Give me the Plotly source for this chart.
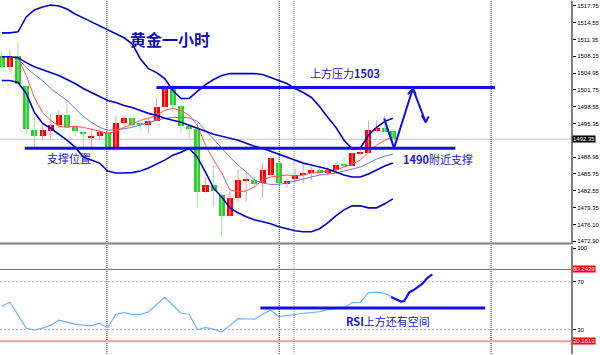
import plotly.graph_objects as go

# ---------------- data ----------------
idx = list(range(49))
opens = [1508.28, 1506.19, 1508.28, 1502.59, 1494.07, 1492.93, 1494.00, 1495.01, 1496.91, 1494.64,
         1493.69, 1492.60, 1492.93, 1493.69, 1490.85, 1495.39, 1496.34, 1495.30, 1495.01, 1495.77,
         1498.42, 1502.21, 1498.61, 1494.82, 1494.26, 1482.32, 1483.65, 1481.75, 1477.77, 1481.18,
         1484.50, 1484.59, 1484.03, 1485.54, 1487.81, 1483.84, 1484.78, 1485.54, 1485.92, 1486.49,
         1485.92, 1486.49, 1487.50, 1487.25, 1489.65, 1489.71, 1493.88, 1494.45, 1493.88]
highs = [1509.00, 1509.60, 1511.12, 1502.80, 1496.53, 1495.01, 1497.29, 1497.86, 1499.37, 1495.00,
         1493.90, 1494.45, 1494.45, 1494.07, 1496.72, 1496.91, 1496.40, 1495.58, 1496.53, 1500.13,
         1502.97, 1502.97, 1498.80, 1494.90, 1495.58, 1485.16, 1487.44, 1482.32, 1482.32, 1486.68,
         1486.49, 1485.16, 1487.81, 1488.95, 1487.85, 1484.97, 1486.68, 1487.81, 1487.06, 1487.06,
         1487.06, 1487.81, 1488.95, 1489.71, 1490.66, 1495.96, 1495.96, 1496.91, 1493.90]
lows = [1505.60, 1505.06, 1502.59, 1493.12, 1490.85, 1492.17, 1492.55, 1494.45, 1494.45, 1492.93,
        1490.85, 1490.85, 1492.17, 1490.85, 1490.85, 1495.01, 1494.45, 1494.07, 1493.50, 1495.70,
        1498.40, 1497.48, 1493.50, 1492.17, 1479.29, 1482.13, 1479.48, 1473.79, 1477.70, 1480.43,
        1480.43, 1483.08, 1481.18, 1485.50, 1483.08, 1483.08, 1484.03, 1484.03, 1484.59, 1485.54,
        1485.35, 1486.10, 1487.06, 1487.20, 1489.30, 1489.70, 1493.80, 1493.69, 1492.36]
closes = [1506.19, 1508.09, 1502.97, 1494.26, 1492.93, 1494.07, 1495.10, 1496.91, 1494.64, 1493.88,
          1493.50, 1492.74, 1493.69, 1490.85, 1495.39, 1496.34, 1495.01, 1495.20, 1495.77, 1498.42,
          1502.21, 1498.80, 1494.82, 1494.26, 1482.32, 1483.65, 1482.51, 1477.77, 1481.18, 1484.59,
          1484.65, 1483.84, 1486.49, 1488.76, 1484.03, 1484.40, 1485.54, 1485.92, 1486.49, 1485.92,
          1486.49, 1487.44, 1487.35, 1489.71, 1489.80, 1494.07, 1494.45, 1493.69, 1492.35]

bb_upper = [1512.63, 1512.63, 1512.82, 1515.67, 1516.99, 1517.56, 1517.94, 1517.75, 1517.18, 1516.23,
            1515.48, 1514.72, 1513.96, 1513.20, 1512.44, 1511.69, 1510.55, 1507.71, 1505.81, 1505.06,
            1503.92, 1501.65, 1500.13, 1500.13, 1501.46, 1502.78, 1503.73, 1504.49, 1504.87, 1504.87,
            1504.87, 1504.87, 1504.68, 1504.11, 1503.54, 1502.97, 1502.02, 1501.27, 1500.32, 1498.61,
            1496.53, 1494.64, 1492.17, 1490.47, 1490.66, 1493.12, 1494.64, 1495.77, 1496.34]
bb_mid = [1508.09, 1508.09, 1507.90, 1506.95, 1506.19, 1505.62, 1505.06, 1504.49, 1503.73, 1502.97,
          1502.02, 1501.27, 1500.51, 1499.75, 1499.37, 1498.80, 1498.42, 1497.86, 1497.29, 1496.91,
          1496.34, 1495.96, 1495.58, 1495.01, 1494.45, 1493.88, 1493.31, 1492.93, 1492.55, 1492.17,
          1491.60, 1491.04, 1490.66, 1490.09, 1489.52, 1488.95, 1488.38, 1487.81, 1487.44, 1487.06,
          1486.68, 1486.11, 1485.54, 1485.16, 1485.16, 1485.73, 1486.49, 1487.25, 1487.81]
bb_lower = [1503.54, 1503.54, 1503.16, 1501.08, 1497.48, 1495.39, 1494.45, 1493.31, 1492.17, 1490.85,
            1488.95, 1488.38, 1487.81, 1486.30, 1485.92, 1485.92, 1486.00, 1486.30, 1486.87, 1487.63,
            1488.38, 1489.33, 1489.90, 1490.66, 1488.95, 1486.11, 1483.02, 1481.37, 1479.29, 1478.34,
            1477.58, 1477.01, 1476.63, 1476.26, 1475.69, 1475.31, 1474.93, 1474.74, 1474.74, 1475.31,
            1476.44, 1477.77, 1478.91, 1479.67, 1479.67, 1479.29, 1479.29, 1480.05, 1480.99]
ma_fast = [1508.09, 1508.09, 1507.90, 1504.49, 1500.30, 1497.48, 1495.96, 1494.82, 1494.63, 1494.82,
           1494.63, 1494.26, 1493.88, 1493.50, 1493.88, 1494.63, 1495.20, 1495.96, 1496.34, 1496.91,
           1497.86, 1498.23, 1497.86, 1496.91, 1495.01, 1491.22, 1488.38, 1485.92, 1482.70, 1482.32,
           1482.51, 1483.27, 1484.59, 1485.16, 1485.35, 1485.54, 1485.35, 1485.54, 1485.92, 1486.11,
           1486.30, 1486.49, 1487.06, 1487.62, 1488.38, 1489.90, 1491.22, 1492.17, 1492.74]
ma_slow = [1508.09, 1508.09, 1507.71, 1506.00, 1504.68, 1503.54, 1502.02, 1500.89, 1499.75, 1498.23,
           1496.72, 1495.58, 1494.63, 1494.07, 1494.16, 1494.35, 1494.63, 1495.11, 1495.58, 1495.96,
           1496.34, 1496.53, 1496.53, 1496.43, 1495.77, 1494.07, 1492.17, 1490.66, 1488.95, 1487.43,
           1486.11, 1484.59, 1484.02, 1483.75, 1483.75, 1484.02, 1484.40, 1484.78, 1485.16, 1485.54,
           1485.73, 1485.92, 1486.30, 1486.68, 1487.06, 1487.81, 1488.57, 1489.14, 1489.52]
rsi = [49.42, 52.75, 41.92, 31.08, 29.42, 31.08, 33.58, 37.75, 36.08, 34.42,
       33.58, 33.17, 35.25, 31.50, 42.75, 44.00, 42.50, 42.50, 44.67, 51.08,
       56.92, 50.25, 43.58, 42.75, 29.83, 31.50, 30.25, 27.75, 33.58, 39.00,
       38.75, 38.58, 42.75, 46.08, 40.83, 41.92, 42.92, 43.58, 44.17, 45.00,
       46.50, 47.50, 48.17, 52.50, 52.75, 60.83, 61.33, 60.25, 56.92]

price_ticks = [1517.75, 1514.55, 1511.35, 1508.15, 1504.95, 1501.75, 1498.55, 1495.35,
               1488.95, 1485.75, 1482.55, 1479.35, 1476.10, 1472.90]
price_tick_text = ["1517.75", "1514.55", "1511.35", "1508.15", "1504.95", "1501.75", "1498.55", "1495.35",
                   "1488.95", "1485.75", "1482.55", "1479.35", "1476.10", "1472.90"]
rsi_ticks = [98, 70, 30]
rsi_tick_text = ["100", "70", "30"]
last_price = 1492.35
rsi_max_level = 80.2439
rsi_min_level = 20.1613

# hand-drawn objects (bar index, value)
resist_level = 1502.21
resist_span = [18.98, 60.53]
support_level = 1490.66
support_span = [2.82, 55.67]
arrow_x = [46.93, 48.14, 50.45, 52.03]
arrow_y = [1496.34, 1490.66, 1502.02, 1495.58]
head1_x = [49.84, 50.45, 50.81]
head1_y = [1500.89, 1502.02, 1500.89]
head2_x = [51.54, 52.03, 52.39]
head2_y = [1496.91, 1495.58, 1496.72]
rsi_level = 48.0
rsi_level_span = [31.74, 59.32]
rsi_proj_x = [47.78, 48.99, 49.39, 50.00, 50.80, 51.63, 52.24, 52.84]
rsi_proj_y = [57.17, 53.33, 53.83, 60.83, 64.17, 68.33, 73.33, 76.08]
sep_black = [12.90, 34.05, 60.05]
sep_grey = [35.87]

# ---------------- figure ----------------
UP, DN = '#FF0000', '#2ECC2E'
UPW, DNW = '#FF9A9A', '#9BE89B'
BLUE = '#0000CC'
DRAW = '#1010EE'
TXT = '#1818C8'

fig = go.Figure()

wxu, wyu, wxd, wyd = [], [], [], []
bu_x, bu_b, bu_h, bd_x, bd_b, bd_h = [], [], [], [], [], []
for i, o, h, l, c in zip(idx, opens, highs, lows, closes):
    base = min(o, c)
    hgt = max(abs(c - o), 0.22)
    if c >= o:
        wxu += [i, i, None]; wyu += [l, h, None]
        bu_x.append(i); bu_b.append(base); bu_h.append(hgt)
    else:
        wxd += [i, i, None]; wyd += [l, h, None]
        bd_x.append(i); bd_b.append(base); bd_h.append(hgt)

fig.add_trace(go.Scatter(x=wxu, y=wyu, mode='lines', line=dict(color=UPW, width=1), hoverinfo='skip'))
fig.add_trace(go.Scatter(x=wxd, y=wyd, mode='lines', line=dict(color=DNW, width=1), hoverinfo='skip'))
fig.add_trace(go.Bar(x=bu_x, y=bu_h, base=bu_b, width=0.74, marker=dict(color=UP, line=dict(width=0))))
fig.add_trace(go.Bar(x=bd_x, y=bd_h, base=bd_b, width=0.74, marker=dict(color=DN, line=dict(width=0))))

fig.add_trace(go.Scatter(x=idx, y=ma_slow, mode='lines', line=dict(color='#7272E6', width=1)))
fig.add_trace(go.Scatter(x=idx, y=ma_fast, mode='lines', line=dict(color='#FF5050', width=1)))
for s in (bb_upper, bb_mid, bb_lower):
    fig.add_trace(go.Scatter(x=idx, y=s, mode='lines', line=dict(color=BLUE, width=1.6)))

# drawings on price panel
fig.add_trace(go.Scatter(x=resist_span, y=[resist_level] * 2, mode='lines', line=dict(color=DRAW, width=3)))
fig.add_trace(go.Scatter(x=support_span, y=[support_level] * 2, mode='lines', line=dict(color=DRAW, width=3)))
fig.add_trace(go.Scatter(x=arrow_x, y=arrow_y, mode='lines', line=dict(color=DRAW, width=2)))
fig.add_trace(go.Scatter(x=head1_x, y=head1_y, mode='lines', line=dict(color=DRAW, width=2)))
fig.add_trace(go.Scatter(x=head2_x, y=head2_y, mode='lines', line=dict(color=DRAW, width=2)))

# RSI panel
fig.add_trace(go.Scatter(x=idx, y=rsi, mode='lines', line=dict(color='#70B4FF', width=1.2), yaxis='y2'))
fig.add_trace(go.Scatter(x=rsi_proj_x, y=rsi_proj_y, mode='lines', line=dict(color=DRAW, width=2.2), yaxis='y2'))
fig.add_trace(go.Scatter(x=rsi_level_span, y=[rsi_level] * 2, mode='lines', line=dict(color=DRAW, width=3), yaxis='y2'))

shapes = []
shapes.append(dict(type='line', xref='x domain', x0=0, x1=1, yref='y', y0=last_price, y1=last_price,
                   line=dict(color='#C8C8C8', width=1), layer='below'))
for lv in (70, 30):
    shapes.append(dict(type='line', xref='x domain', x0=0, x1=1, yref='y2', y0=lv, y1=lv,
                       line=dict(color='#AAAAAA', width=1, dash='2px,2px'), layer='below'))
shapes.append(dict(type='line', xref='x domain', x0=0, x1=1, yref='y2', y0=rsi_max_level, y1=rsi_max_level,
                   line=dict(color='#F04040', width=1)))
shapes.append(dict(type='line', xref='x domain', x0=0, x1=1, yref='y2', y0=rsi_min_level, y1=rsi_min_level,
                   line=dict(color='#FF9A9A', width=2)))
for sx in sep_black:
    shapes.append(dict(type='line', xref='x', x0=sx, x1=sx, yref='paper', y0=0, y1=1,
                       line=dict(color='#222222', width=1, dash='1px,1px'), layer='below'))
for sx in sep_grey:
    shapes.append(dict(type='line', xref='x', x0=sx, x1=sx, yref='paper', y0=0, y1=1,
                       line=dict(color='#999999', width=1, dash='1px,1px'), layer='below'))
shapes.append(dict(type='line', xref='x domain', x0=0, x1=1, yref='y domain', y0=0, y1=0,
                   line=dict(color='#808080', width=2)))

annotations = [
    dict(x=20.62, y=1511.5, xref='x', yref='y', text='<b>黄金一小时</b>', showarrow=False,
         font=dict(family='Noto Sans CJK SC', size=16, color='#1212B4')),
    dict(x=42.1, y=1505.05, xref='x', yref='y', text='上方压力<b>1503</b>', showarrow=False,
         font=dict(family='Noto Sans CJK SC', size=11, color=TXT)),
    dict(x=8.23, y=1488.76, xref='x', yref='y', text='支撑位置', showarrow=False,
         font=dict(family='Noto Sans CJK SC', size=11, color=TXT)),
    dict(x=53.49, y=1488.57, xref='x', yref='y', text='<b>1490</b>附近支撑', showarrow=False,
         font=dict(family='Noto Sans CJK SC', size=11, color=TXT)),
    dict(x=47.35, y=36.9, xref='x', yref='y2', text='<b>RSI</b>上方还有空间', showarrow=False,
         font=dict(family='Noto Sans CJK SC', size=11, color=TXT)),
    dict(x=0.963, y=last_price, xref='paper', yref='y', xanchor='left', text=f'{last_price:.2f}',
         showarrow=False, bgcolor='black', borderpad=0, font=dict(family='Liberation Sans', size=6, color='white')),
    dict(x=0.963, y=rsi_max_level, xref='paper', yref='y2', xanchor='left', text=f'{rsi_max_level:.4f}',
         showarrow=False, bgcolor='#FF0000', borderpad=0, font=dict(family='Liberation Sans', size=6, color='white')),
    dict(x=0.963, y=rsi_min_level, xref='paper', yref='y2', xanchor='left', text=f'{rsi_min_level:.4f}',
         showarrow=False, bgcolor='#FF0000', borderpad=0, font=dict(family='Liberation Sans', size=6, color='white')),
]

tickfont = dict(family='Liberation Sans', size=6, color='#000000')
fig.update_layout(
    width=600, height=355, margin=dict(l=0, r=0, t=0, b=0),
    paper_bgcolor='white', plot_bgcolor='white', showlegend=False,
    barmode='overlay', bargap=0,
    xaxis=dict(range=[-0.219, 69.89], domain=[0, 0.9617], anchor='y2', showgrid=False, zeroline=False,
               showticklabels=False, showline=False, ticks=''),
    yaxis=dict(domain=[0.3127, 1], range=[1472.47, 1518.70], side='right', anchor='x',
               tickvals=price_ticks, ticktext=price_tick_text, ticks='outside', ticklen=3, tickcolor='#000000',
               showgrid=False, zeroline=False, showline=True, linecolor='#808080', linewidth=1.5,
               tickfont=tickfont),
    yaxis2=dict(domain=[0, 0.3062], range=[9.42, 100], side='right', anchor='x',
                tickvals=rsi_ticks, ticktext=rsi_tick_text, ticks='outside', ticklen=3,
                tickcolor='#000000', showgrid=False, zeroline=False, showline=True, linecolor='#808080',
                linewidth=1.5, tickfont=tickfont),
    shapes=shapes, annotations=annotations,
)

fig.write_html("out.html")
